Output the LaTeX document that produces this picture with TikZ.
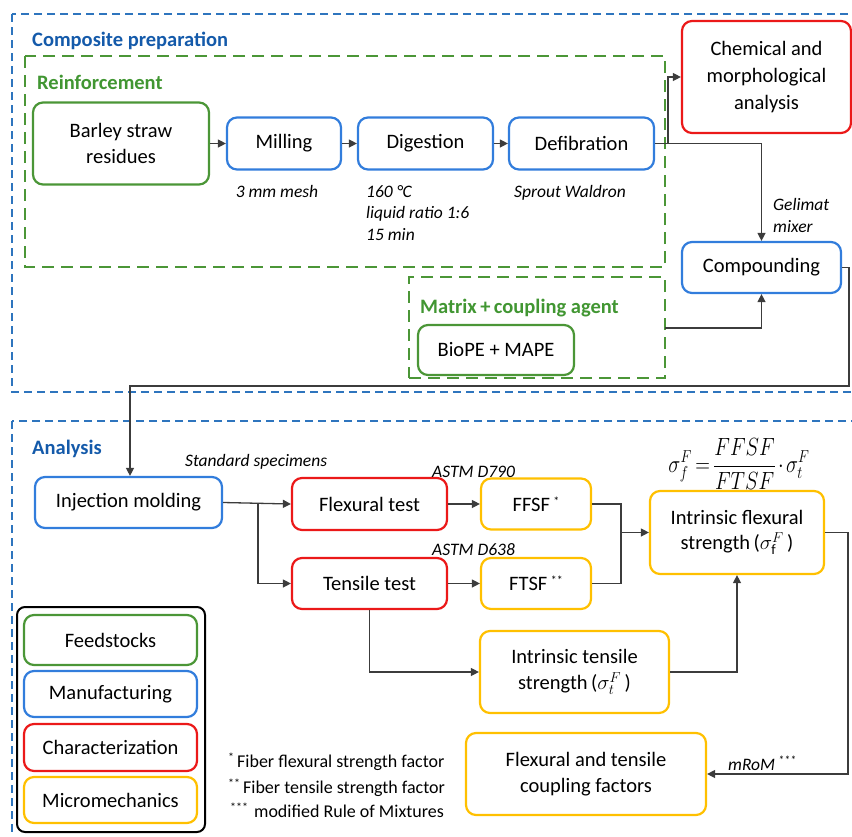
\documentclass[tikz,border=0pt]{standalone}
\usepackage{fontspec}
\setmainfont{Carlito}
\usetikzlibrary{arrows.meta}
\definecolor{dashblue}{RGB}{46,117,190}
\definecolor{titleblue}{RGB}{20,90,170}
\definecolor{boxblue}{RGB}{50,125,220}
\definecolor{boxgreen}{RGB}{75,150,55}
\definecolor{txtgreen}{RGB}{65,150,50}
\definecolor{boxred}{RGB}{235,25,25}
\definecolor{boxyellow}{RGB}{255,192,0}
\definecolor{conn}{RGB}{60,60,60}
\tikzset{
  box/.style={draw, rounded corners=10pt, line width=2.2pt, align=center,
    font=\fontsize{20.5}{26}\selectfont, inner sep=2pt},
  gbox/.style={box, draw=boxgreen},
  bbox/.style={box, draw=boxblue},
  rbox/.style={box, draw=boxred},
  ybox/.style={box, draw=boxyellow},
  bluedash/.style={draw=dashblue, line width=2pt, dash pattern=on 8pt off 5pt},
  greendash/.style={draw=boxgreen, line width=2pt, dash pattern=on 12pt off 7pt},
  arr/.style={draw=conn, line width=1.3pt, -{Triangle[length=8pt,width=8pt]}},
  ln/.style={draw=conn, line width=1.3pt},
  ttl/.style={font=\fontsize{20.5}{24}\selectfont\bfseries, anchor=base west, inner sep=0pt},
  lbl/.style={font=\fontsize{17.5}{20}\selectfont\itshape, inner sep=0pt},
  fn/.style={font=\fontsize{18}{22}\selectfont, inner sep=0pt, anchor=base west},
}
\newcommand{\mk}[1]{\raisebox{6pt}{\fontsize{12}{12}\selectfont #1}}
\begin{document}
\begin{tikzpicture}[x=1pt,y=-1pt]
\useasboundingbox (0,0) rectangle (852,836);
% containers
\draw[bluedash] (12,14) rectangle (858,392);
\draw[bluedash] (12,421) rectangle (858,850);
\node[ttl, text=titleblue] (t1) at (32,46) {Composite preparation};
\node[ttl, text=titleblue] (t2) at (32,454) {Analysis};
\draw[greendash] (25,56) rectangle (665,267);
\node[ttl, text=txtgreen] (t3) at (37,89) {Reinforcement};
\node[greendash, minimum width=256pt, minimum height=101pt, inner sep=0pt] (matbox) at (537,327.5) {};
\node[ttl, text=txtgreen] (t4) at (420,313) {Matrix\,+\,coupling agent};
% top row
\node[gbox, minimum width=176pt, minimum height=82pt] (barley) at (121,143.5) {Barley straw\\residues};
\node[bbox, minimum width=114pt, minimum height=52pt] (mill) at (284,143.5) {Milling};
\node[bbox, minimum width=135pt, minimum height=52pt] (dig) at (425.5,143.5) {Digestion};
\node[bbox, minimum width=145pt, minimum height=52pt] (defib) at (581.5,143.5) {Defibration};
\node[rbox, minimum width=169pt, minimum height=112pt, font=\fontsize{20.5}{27}\selectfont] (chem) at (766.5,77) {Chemical and\\morphological\\analysis};
\node[bbox, minimum width=159pt, minimum height=51pt] (comp) at (761.5,267.5) {Compounding};
\node[gbox, minimum width=156pt, minimum height=50pt] (bio) at (496,350) {BioPE + MAPE};
\node[bbox, minimum width=187pt, minimum height=51pt] (inj) at (128.5,502.5) {Injection molding};
% labels top
\node[lbl, anchor=base] (l1) at (277,197) {3 mm mesh};
\node[lbl, anchor=base west] (l2) at (366,197) {160 °C};
\node[lbl, anchor=base west] (l3) at (366,218.5) {liquid ratio 1:6};
\node[lbl, anchor=base west] (l4) at (366,240) {15 min};
\node[lbl, anchor=base] (l5) at (570,197) {Sprout Waldron};
\node[lbl, anchor=base west] (l6) at (773,210) {Gelimat};
\node[lbl, anchor=base west] (l7) at (773,232) {mixer};
% top connectors
\draw[arr] (barley.east) -- (mill.west);
\draw[arr] (mill.east) -- (dig.west);
\draw[arr] (dig.east) -- (defib.west);
\coordinate (up) at (668,143.5);
\draw[arr] (defib.east) -- (up) |- (chem.west);
\draw[arr] (defib.east) -| (comp.north);
\coordinate (mx) at (665,328);
\draw[arr] (mx) -| (comp.south);
\coordinate (c1) at (849,386);
\coordinate (c1b) at (130,386);
\draw[arr] (comp.east) -| (c1) -- (c1b) -- (c1b |- inj.north);
% analysis
\node[rbox, minimum width=155pt, minimum height=52pt] (flex) at (369.5,504) {Flexural test};
\node[rbox, minimum width=155pt, minimum height=51pt] (tens) at (369.5,583.5) {Tensile test};
\node[ybox, minimum width=110pt, minimum height=51pt] (ffsf) at (536,504) {FFSF\,\mk{*}};
\node[ybox, minimum width=110pt, minimum height=51pt] (ftsf) at (536,583.5) {FTSF\,\mk{**}};
\node[ybox, minimum width=174pt, minimum height=83pt, font=\fontsize{20.5}{25}\selectfont] (iflex) at (737,532.5) {Intrinsic flexural\\strength\,($\sigma_{\mathrm{f}}^{F}$\,)};
\node[ybox, minimum width=189pt, minimum height=82pt] (itens) at (574.5,672) {Intrinsic tensile\\strength\,($\sigma_{t}^{F}$\,)};
\node[ybox, minimum width=240pt, minimum height=82pt] (coup) at (586,774) {Flexural and tensile\\coupling factors};
\node[lbl, anchor=base west] (l8) at (185,466) {Standard specimens};
\node[lbl, anchor=base west] (l9) at (432,477) {ASTM D790};
\node[lbl, anchor=base west] (l10) at (432,555) {ASTM D638};
\node[lbl, anchor=base west] (l11) at (728,770) {mRoM\,\mk{***}};
\node[inner sep=0pt, font=\fontsize{20}{24}\selectfont] (eq) at (739,464) {\scalebox{0.98}[1.2]{\thickmuskip=3mu\medmuskip=2mu$\displaystyle \sigma_f^F = \frac{FFSF}{FTSF}\cdot\sigma_t^F$}};
% analysis connectors
\draw[arr] (inj.east) -- (flex.west);
\coordinate (br) at (258,503);
\draw[arr] (br) |- (tens.west);
\draw[arr] (flex.east) -- (ffsf.west);
\draw[arr] (tens.east) -- (ftsf.west);
\coordinate (mg) at (621,532.5);
\draw[ln] (ffsf.east) -| (mg);
\draw[ln] (ftsf.east) -| (mg);
\draw[arr] (mg) -- (iflex.west);
\draw[arr] (tens.south) |- (itens.west);
\draw[arr] (itens.east) -| (iflex.south);
\coordinate (c2) at (848,774);
\draw[arr] (iflex.east) -| (c2) -- (coup.east);
% legend
\draw[line width=2pt, rounded corners=8pt] (17,607) rectangle (205,832);
\node[gbox, minimum width=173pt, minimum height=50pt] (lg1) at (110.5,640) {Feedstocks};
\node[bbox, minimum width=173pt, minimum height=46pt] (lg2) at (110.5,694) {Manufacturing};
\node[rbox, minimum width=173pt, minimum height=47pt] (lg3) at (110.5,747.5) {Characterization};
\node[ybox, minimum width=173pt, minimum height=46pt] (lg4) at (110.5,800) {Micromechanics};
% footnotes
\node[fn] (f1) at (228,767) {\mk{*}\,Fiber flexural strength factor};
\node[fn] (f2) at (228,793) {\mk{**}\,Fiber tensile strength factor};
\node[fn] (f3) at (230,817) {\mk{***}\,\,modified Rule of Mixtures};
\end{tikzpicture}
\end{document}
